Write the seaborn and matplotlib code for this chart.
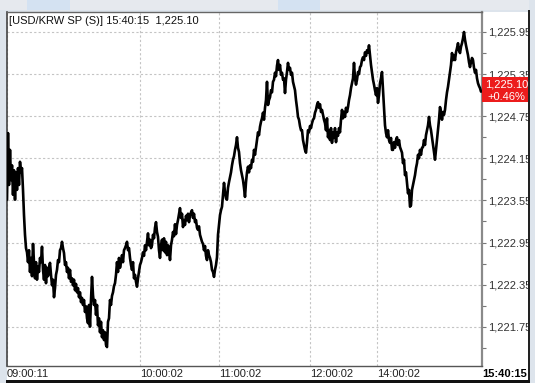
import matplotlib
matplotlib.use("Agg")
import matplotlib.pyplot as plt
import seaborn as sns
import pandas as pd
from matplotlib.patches import Rectangle
from matplotlib.transforms import blended_transform_factory
from matplotlib.ticker import FixedLocator, FuncFormatter

# ---------------- data ----------------
prices = [
    1223.56, 1224.51, 1223.77, 1224.27, 1223.84, 1224.05, 1223.63, 1223.98, 1223.56, 1223.95,
    1223.70, 1224.01, 1223.77, 1224.10, 1223.95, 1224.01, 1223.70, 1223.34, 1223.06, 1222.87,
    1222.81, 1222.67, 1222.84, 1222.53, 1222.73, 1222.47, 1222.93, 1222.67, 1222.44, 1222.67,
    1222.42, 1222.61, 1222.53, 1222.73, 1222.67, 1222.89, 1222.56, 1222.42, 1222.63, 1222.37,
    1222.59, 1222.47, 1222.59, 1222.66, 1222.49, 1222.34, 1222.42, 1222.17, 1222.30, 1222.49,
    1222.56, 1222.70, 1222.67, 1222.84, 1222.87, 1222.96, 1222.87, 1222.80, 1222.63, 1222.67,
    1222.53, 1222.59, 1222.44, 1222.56, 1222.39, 1222.44, 1222.34, 1222.42, 1222.27, 1222.36,
    1222.24, 1222.30, 1222.17, 1222.24, 1222.10, 1222.16, 1222.06, 1222.13, 1221.96, 1222.04,
    1221.87, 1221.80, 1222.06, 1221.75, 1222.13, 1222.46, 1222.20, 1222.06, 1222.13, 1221.92,
    1222.06, 1221.77, 1221.87, 1221.67, 1221.82, 1221.60, 1221.70, 1221.56, 1221.67, 1221.49,
    1221.46, 1221.82, 1221.87, 1222.13, 1222.06, 1222.19, 1222.24, 1222.33, 1222.37, 1222.49,
    1222.67, 1222.53, 1222.73, 1222.59, 1222.67, 1222.77, 1222.67, 1222.84, 1222.87, 1222.91,
    1222.96, 1222.84, 1222.87, 1222.73, 1222.63, 1222.56, 1222.67, 1222.44, 1222.49, 1222.39,
    1222.32, 1222.44, 1222.53, 1222.63, 1222.67, 1222.73, 1222.81, 1222.76, 1222.91, 1222.84,
    1222.96, 1223.08, 1222.91, 1222.99, 1222.87, 1222.91, 1223.06, 1223.01, 1223.16, 1223.24,
    1223.10, 1223.03, 1222.84, 1222.73, 1222.91, 1222.99, 1222.84, 1223.01, 1222.81, 1222.96,
    1222.77, 1222.91, 1222.84, 1222.70, 1222.91, 1222.99, 1223.10, 1223.04, 1223.21, 1223.07,
    1223.20, 1223.27, 1223.36, 1223.44, 1223.30, 1223.36, 1223.17, 1223.27, 1223.20, 1223.33,
    1223.27, 1223.36, 1223.24, 1223.33, 1223.38, 1223.41, 1223.30, 1223.36, 1223.24, 1223.27,
    1223.16, 1223.13, 1223.18, 1223.06, 1223.01, 1222.96, 1222.93, 1222.84, 1222.90, 1222.76,
    1222.70, 1222.84, 1222.77, 1222.73, 1222.67, 1222.56, 1222.53, 1222.46, 1222.56, 1222.63,
    1222.74, 1223.06, 1223.20, 1223.34, 1223.41, 1223.46, 1223.63, 1223.80, 1223.67, 1223.58,
    1223.56, 1223.73, 1223.81, 1223.88, 1223.95, 1224.05, 1224.13, 1224.18, 1224.27, 1224.34,
    1224.45, 1224.30, 1224.24, 1224.08, 1223.98, 1223.91, 1223.84, 1223.73, 1223.60, 1223.81,
    1223.95, 1224.03, 1223.95, 1224.05, 1224.01, 1224.13, 1224.10, 1224.27, 1224.20, 1224.30,
    1224.41, 1224.52, 1224.48, 1224.60, 1224.67, 1224.72, 1224.80, 1224.70, 1224.87, 1224.98,
    1225.24, 1224.91, 1224.98, 1225.02, 1225.12, 1225.09, 1225.24, 1225.27, 1225.37, 1225.32,
    1225.47, 1225.55, 1225.41, 1225.48, 1225.34, 1225.37, 1225.27, 1225.29, 1225.08, 1225.27,
    1225.38, 1225.51, 1225.41, 1225.44, 1225.34, 1225.37, 1225.24, 1225.18, 1225.12, 1224.98,
    1224.87, 1224.74, 1224.70, 1224.61, 1224.55, 1224.55, 1224.41, 1224.34, 1224.27, 1224.23,
    1224.38, 1224.55, 1224.52, 1224.61, 1224.58, 1224.65, 1224.70, 1224.72, 1224.80, 1224.84,
    1224.91, 1224.95, 1224.87, 1224.92, 1224.81, 1224.84, 1224.77, 1224.70, 1224.65, 1224.55,
    1224.72, 1224.45, 1224.55, 1224.41, 1224.58, 1224.37, 1224.52, 1224.44, 1224.58, 1224.38,
    1224.52, 1224.47, 1224.58, 1224.52, 1224.70, 1224.84, 1224.72, 1224.81, 1224.74, 1224.87,
    1224.81, 1224.88, 1224.98, 1225.05, 1225.15, 1225.22, 1225.29, 1225.51, 1225.29, 1225.20,
    1225.27, 1225.38, 1225.35, 1225.45, 1225.47, 1225.55, 1225.59, 1225.55, 1225.66, 1225.61,
    1225.69, 1225.66, 1225.76, 1225.62, 1225.48, 1225.37, 1225.27, 1225.20, 1225.12, 1225.05,
    1225.15, 1224.94, 1225.05, 1225.22, 1225.29, 1225.38, 1225.12, 1224.84, 1224.62, 1224.51,
    1224.45, 1224.55, 1224.41, 1224.37, 1224.44, 1224.27, 1224.27, 1224.38, 1224.30, 1224.41,
    1224.45, 1224.34, 1224.41, 1224.31, 1224.27, 1224.23, 1224.08, 1224.13, 1223.91, 1223.95,
    1223.80, 1223.65, 1223.70, 1223.46, 1223.48, 1223.70, 1223.77, 1223.84, 1223.91, 1224.01,
    1224.08, 1224.20, 1224.15, 1224.27, 1224.20, 1224.30, 1224.31, 1224.41, 1224.34, 1224.48,
    1224.55, 1224.62, 1224.74, 1224.62, 1224.55, 1224.45, 1224.34, 1224.24, 1224.13, 1224.27,
    1224.41, 1224.55, 1224.70, 1224.88, 1224.81, 1224.70, 1224.81, 1224.77, 1224.84, 1224.98,
    1225.09, 1225.17, 1225.27, 1225.37, 1225.48, 1225.65, 1225.55, 1225.62, 1225.55, 1225.66,
    1225.72, 1225.79, 1225.69, 1225.65, 1225.74, 1225.79, 1225.86, 1225.95, 1225.84, 1225.76,
    1225.69, 1225.62, 1225.52, 1225.45, 1225.52, 1225.58, 1225.55, 1225.44, 1225.37, 1225.41,
    1225.29, 1225.22, 1225.18, 1225.15, 1225.10,
]
time_labels = ["09:00:11", "10:00:02", "11:00:02", "12:00:02", "14:00:02", "15:40:15"]
time_positions = [0, 133, 212, 303, 370, 475]
y_ticks = [1221.75, 1222.35, 1222.95, 1223.55, 1224.15, 1224.75, 1225.35, 1225.95]
y_minor = [1221.45, 1222.05, 1222.65, 1223.25, 1223.85, 1224.45, 1225.05, 1225.65]
last_price = 1225.10
change_pct = "+0.46%"
title_text = "[USD/KRW SP (S)] 15:40:15  1,225.10"

# ---------------- style ----------------
sns.set_theme(style="white")
plt.rcParams['font.family'] = ['Liberation Sans', 'DejaVu Sans']

W, H = 535, 383
fig = plt.figure(figsize=(W / 100, H / 100), dpi=100, facecolor='#dde4ec')

# white panel behind everything
fig.patches.append(Rectangle((7 / W, 2 / H), (529 - 7) / W, (371 - 2) / H,
                             transform=fig.transFigure, facecolor='white',
                             edgecolor='none', zorder=-2))
# top strip and tabs
fig.patches.append(Rectangle((0, (H - 10) / H), 1, 10 / H, transform=fig.transFigure,
                             facecolor='#e6e9ee', edgecolor='none', zorder=-3))
for tx0, tx1 in [(27, 70), (278, 320)]:
    fig.patches.append(Rectangle((tx0 / W, (H - 10) / H), (tx1 - tx0) / W, 10 / H,
                                 transform=fig.transFigure, facecolor='#d4e2f2',
                                 edgecolor='none', zorder=-2))

ax = fig.add_axes([7 / W, (H - 366) / H, (482 - 7) / W, (366 - 12) / H])
ax.set_facecolor('white')

df = pd.DataFrame({"i": range(len(prices)), "price": prices})
sns.lineplot(data=df, x="i", y="price", ax=ax, color="black", linewidth=1.9, zorder=3)

ax.set_xlim(0, 475)
ax.set_ylim(1221.19, 1226.235)
ax.set_xlabel("")
ax.set_ylabel("")

# x axis
ax.set_xticks(time_positions)
ax.set_xticklabels(time_labels)
ax.tick_params(axis='x', length=0, pad=2, labelsize=8, labelcolor='#222222')
for lab in ax.get_xticklabels():
    lab.set_horizontalalignment('left')
ax.get_xticklabels()[-1].set_fontweight('bold')
ax.get_xticklabels()[-1].set_color('black')

# y axis on right
ax.yaxis.tick_right()
ax.yaxis.set_major_locator(FixedLocator(y_ticks))
ax.yaxis.set_minor_locator(FixedLocator(y_minor))
ax.yaxis.set_major_formatter(FuncFormatter(lambda v, p: f"{v:,.2f}"))
ax.tick_params(axis='y', which='major', direction='out', length=3.2, width=0.8,
               color='#777777', pad=1.2, labelsize=8, labelcolor='#333333')
ax.tick_params(axis='y', which='minor', direction='out', length=3.2, width=0.8,
               color='#777777', right=True, left=False)

# grid
ax.grid(True, which='major', axis='both', color='#c4c4c4', linestyle=(0, (2, 2)),
        linewidth=0.8)

# spines
ax.spines['left'].set_color('#444444')
ax.spines['left'].set_linewidth(1.2)
ax.spines['top'].set_color('#666666')
ax.spines['top'].set_linewidth(1.0)
ax.spines['right'].set_color('#8a8a8a')
ax.spines['right'].set_linewidth(1.6)
ax.spines['bottom'].set_color('#555555')
ax.spines['bottom'].set_linewidth(1.0)

# title inside
ax.text(0.004, 0.975, title_text, transform=ax.transAxes, fontsize=8,
        color='#111111', ha='left', va='center')

# last price box
bt = blended_transform_factory(ax.transAxes, ax.transData)
ax.add_patch(Rectangle((1.0, last_price - 0.15), 0.103, 0.36, transform=bt,
                       facecolor='#ec1c1c', edgecolor='none', clip_on=False, zorder=5))
ax.text(1.052, last_price + 0.095, f"{last_price:,.2f}", transform=bt, fontsize=8,
        color='white', ha='center', va='center', zorder=6, clip_on=False)
ax.text(1.052, last_price - 0.08, change_pct, transform=bt, fontsize=8,
        color='white', ha='center', va='center', zorder=6, clip_on=False)

# outer frame on top (right and bottom edges)
fig.patches.append(Rectangle((529 / W, 0), (W - 529) / W, 1, transform=fig.transFigure,
                             facecolor='#dde4ec', edgecolor='none', zorder=10))
fig.patches.append(Rectangle((528 / W, 0), 2 / W, (H - 10) / H, transform=fig.transFigure,
                             facecolor='#222222', edgecolor='none', zorder=11))
fig.patches.append(Rectangle((6 / W, 0), (530 - 6) / W, 3 / H, transform=fig.transFigure,
                             facecolor='#111111', edgecolor='none', zorder=11))

fig.savefig("out.png", dpi=100, facecolor=fig.get_facecolor())
